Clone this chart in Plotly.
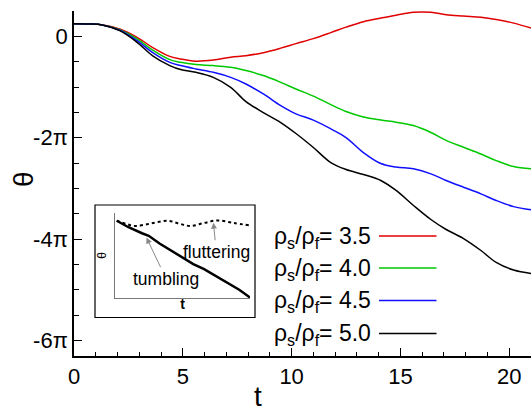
import math
import plotly.graph_objects as go

PI = math.pi

# ---- main data (theta in radians) ----
t = [0, 0.7, 1.3, 2.1, 2.9, 3.6, 4.4, 4.9, 5.6, 6.4, 7.2, 7.9, 8.7, 9.5, 10.2, 11.0,
     11.8, 12.5, 13.3, 14.1, 14.8, 15.6, 16.4, 17.1, 17.9, 18.7, 19.4, 20.2, 21.0]

theta_35 = [0.785, 0.77, 0.71, 0.46, -0.06, -0.68, -1.24, -1.41, -1.54, -1.47, -1.29, -1.20,
            -1.01, -0.73, -0.45, -0.14, 0.23, 0.57, 0.91, 1.13, 1.31, 1.49, 1.49, 1.34, 1.26,
            1.19, 1.05, 0.82, 0.52]
theta_40 = [0.785, 0.77, 0.71, 0.41, -0.16, -0.84, -1.44, -1.61, -1.75, -1.81, -1.92, -2.12,
            -2.43, -2.85, -3.26, -3.70, -4.23, -4.66, -5.00, -5.19, -5.32, -5.53, -5.96, -6.45,
            -6.87, -7.29, -7.70, -8.07, -8.21]
theta_45 = [0.785, 0.77, 0.71, 0.38, -0.27, -0.99, -1.61, -1.81, -2.02, -2.23, -2.54, -2.95,
            -3.57, -4.29, -4.80, -5.19, -5.73, -6.27, -7.20, -7.88, -8.10, -8.21, -8.52, -8.93,
            -9.35, -9.76, -10.17, -10.55, -10.75]
theta_50 = [0.785, 0.77, 0.71, 0.35, -0.37, -1.19, -1.81, -2.06, -2.23, -2.54, -3.16, -4.04,
            -4.72, -5.34, -6.02, -6.89, -7.82, -8.25, -8.56, -8.93, -9.55, -10.48, -11.35,
            -11.97, -12.53, -13.27, -14.01, -14.48, -14.69]

ratios = ["3.5", "4.0", "4.5", "5.0"]
colors = ["#e00000", "#00c800", "#1010ff", "#000000"]
series = [theta_35, theta_40, theta_45, theta_50]

y_tick_vals = [0, -2 * PI, -4 * PI, -6 * PI]
y_tick_text = ["0", "-2\u03c0", "-4\u03c0", "-6\u03c0"]
x_tick_vals = [0, 5, 10, 15, 20]

# ---- inset data (schematic units) ----
inset_x_tumble = [0.013, 0.1, 0.2, 0.25, 0.33, 0.42, 0.5, 0.58, 0.66, 0.75, 0.83, 0.92, 1.0]
inset_y_tumble = [0.906, 0.83, 0.76, 0.73, 0.64, 0.55, 0.47, 0.40, 0.34, 0.26, 0.19, 0.10, 0.01]
inset_x_flutter = [0.013, 0.08, 0.15, 0.27, 0.39, 0.48, 0.56, 0.66, 0.76, 0.88, 1.0]
inset_y_flutter = [0.906, 0.87, 0.845, 0.875, 0.906, 0.87, 0.845, 0.88, 0.91, 0.88, 0.85]

FONT = "Liberation Sans, Arial, Helvetica, sans-serif"

fig = go.Figure()
for th, col in zip(series, colors):
    fig.add_trace(go.Scatter(x=t, y=th, mode="lines",
                             line=dict(color=col, width=1.5, shape="spline", smoothing=1.0),
                             showlegend=False, hoverinfo="skip"))

fig.add_trace(go.Scatter(x=inset_x_flutter, y=inset_y_flutter, mode="lines",
                         line=dict(color="black", width=2, dash="dot", shape="spline"),
                         xaxis="x2", yaxis="y2", showlegend=False, hoverinfo="skip"))
fig.add_trace(go.Scatter(x=inset_x_tumble, y=inset_y_tumble, mode="lines",
                         line=dict(color="black", width=2.5),
                         xaxis="x2", yaxis="y2", showlegend=False, hoverinfo="skip"))

L, R, T, B = 74, 0, 11, 56
W, H = 531, 412
pw, ph = W - L - R, H - T - B


def px(xp):
    return (xp - L) / pw


def py(yp):
    return (H - B - yp) / ph


minor_y = [k * PI / 2 for k in range(-12, 2) if k % 4 != 0]

fig.update_layout(
    width=W, height=H,
    margin=dict(l=L, r=R, t=T, b=B),
    paper_bgcolor="white", plot_bgcolor="white",
    font=dict(family=FONT, color="black", size=21),
    xaxis=dict(range=[0, 21], showgrid=False, zeroline=False,
               showline=True, linecolor="black", linewidth=1.5,
               tickmode="array", tickvals=x_tick_vals, ticks="inside", ticklen=8,
               tickwidth=1.2, tickcolor="black", tickfont=dict(size=22),
               minor=dict(tickmode="linear", tick0=0, dtick=1, ticks="inside",
                          ticklen=4, tickwidth=1.2, tickcolor="black")),
    yaxis=dict(range=[-6.305 * PI, PI / 2], showgrid=False, zeroline=False,
               showline=True, linecolor="black", linewidth=1.5,
               tickmode="array", tickvals=y_tick_vals, ticktext=y_tick_text,
               ticks="inside", ticklen=8, tickwidth=1.2, tickcolor="black",
               tickfont=dict(size=22),
               minor=dict(tickmode="array", tickvals=minor_y, ticks="inside",
                          ticklen=5, tickwidth=1.2, tickcolor="black")),
    xaxis2=dict(domain=[px(115), px(250)], anchor="y2", range=[0, 1.0],
                showgrid=False, zeroline=False, showline=True, linecolor="#777777",
                linewidth=1, showticklabels=False, ticks="",
                title=dict(text="<b>t</b>", font=dict(size=14), standoff=0)),
    yaxis2=dict(domain=[py(298.3), py(212.7)], anchor="x2", range=[0, 1.0],
                showgrid=False, zeroline=False, showline=True, linecolor="#777777",
                linewidth=1, showticklabels=False, ticks="",
                title=dict(text="\u03b8", font=dict(size=12), standoff=4)),
)

# inset frame
fig.add_shape(type="rect", xref="paper", yref="paper",
              x0=px(95), x1=px(255), y0=py(317.5), y1=py(205),
              line=dict(color="black", width=1.2), fillcolor="white", layer="below")

# axis titles
fig.add_annotation(text="t", xref="paper", yref="paper", x=px(258), y=py(397),
                   showarrow=False, font=dict(size=28), xanchor="center", yanchor="middle")
fig.add_annotation(text="\u03b8", xref="paper", yref="paper", x=px(23), y=py(179),
                   showarrow=False, font=dict(size=28), textangle=-90,
                   xanchor="center", yanchor="middle")

# legend (text then line sample)
row_y = [236, 268, 300.5, 333.5]
for lab, col, yy in zip(ratios, colors, row_y):
    fig.add_annotation(text="\u03c1<sub>s</sub>/\u03c1<sub>f</sub>= " + lab,
                       xref="paper", yref="paper", x=px(373), y=py(yy + 1),
                       showarrow=False, xanchor="right", yanchor="middle",
                       font=dict(size=23))
    fig.add_shape(type="line", xref="paper", yref="paper",
                  x0=px(379), x1=px(436.5), y0=py(yy), y1=py(yy),
                  line=dict(color=col, width=1.3))

# inset labels with arrows
fig.add_annotation(text="fluttering", xref="x2", yref="y2", x=0.728, y=0.895,
                   ax=3, ay=30, showarrow=True, arrowhead=2, arrowsize=1.2,
                   arrowwidth=1, arrowcolor="#888888", font=dict(size=17.5),
                   standoff=1)
fig.add_annotation(text="tumbling", xref="x2", yref="y2", x=0.23, y=0.72,
                   ax=20, ay=42, showarrow=True, arrowhead=2, arrowsize=1.2,
                   arrowwidth=1, arrowcolor="#888888", font=dict(size=17.5),
                   standoff=1)

fig.write_html("out.html")
